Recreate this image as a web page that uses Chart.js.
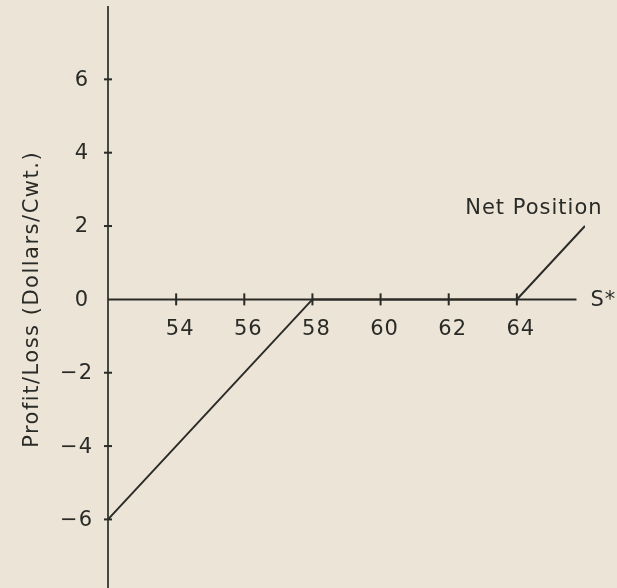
<!DOCTYPE html>
<html>
<head>
<meta charset="utf-8">
<script src="https://cdn.jsdelivr.net/npm/chart.js@4.4.1/dist/chart.umd.min.js"></script>
<style>
  html, body { margin: 0; padding: 0; background: #ece4d7; overflow: hidden; }
  #wrap { width: 617px; height: 588px; position: relative; }
</style>
</head>
<body>
<div id="wrap"><canvas id="c" width="617" height="588"></canvas></div>
<script>
// ---- data ----
const priceS = [52, 58, 64, 66];           // S* (price)
const netPosition = [-6, 0, 0, 2];         // Profit/Loss, Dollars/Cwt.
const xTickValues = [54, 56, 58, 60, 62, 64];
const yTickValues = [6, 4, 2, 0, -2, -4, -6];
const seriesLabel = 'Net Position';
const xAxisLabel = 'S*';
const yAxisLabel = 'Profit/Loss (Dollars/Cwt.)';

const INK = '#2a2b27';
const AXIS_INK = '#434a3e';
const FONT = '21px "DejaVu Sans"';

const axesPlugin = {
  id: 'hand-axes',
  beforeDatasetsDraw(chart) {
    const ctx = chart.ctx;
    const xs = chart.scales.x, ys = chart.scales.y;
    const x0 = xs.getPixelForValue(52);
    const y0 = ys.getPixelForValue(0);
    ctx.save();
    ctx.lineCap = 'butt';
    // y axis
    ctx.strokeStyle = AXIS_INK;
    ctx.lineWidth = 2;
    ctx.beginPath();
    ctx.moveTo(x0, ys.getPixelForValue(8));
    ctx.lineTo(x0, chart.chartArea.bottom + 2);
    ctx.stroke();
    // x axis
    ctx.strokeStyle = INK;
    ctx.beginPath();
    ctx.moveTo(x0, y0);
    ctx.lineTo(xs.getPixelForValue(65.75), y0);
    ctx.stroke();
    // tick marks
    ctx.lineWidth = 2;
    xTickValues.forEach(v => {
      const px = xs.getPixelForValue(v);
      ctx.beginPath();
      ctx.moveTo(px, y0 - 6);
      ctx.lineTo(px, y0 + 6);
      ctx.stroke();
    });
    yTickValues.forEach(v => {
      if (v === 0) return;
      const py = ys.getPixelForValue(v);
      ctx.beginPath();
      ctx.moveTo(x0 - 4, py);
      ctx.lineTo(x0 + 4, py);
      ctx.stroke();
    });
    // labels
    ctx.fillStyle = INK;
    ctx.font = FONT;
    ctx.letterSpacing = '1px';
    ctx.textBaseline = 'middle';
    ctx.textAlign = 'center';
    xTickValues.forEach(v => {
      ctx.fillText(String(v), xs.getPixelForValue(v) + 4, y0 + 30);
    });
    ctx.textAlign = 'right';
    yTickValues.forEach(v => {
      const txt = v < 0 ? '\u2212' + Math.abs(v) : String(v);
      ctx.fillText(txt, x0 - (v < 0 ? 15 : 19), ys.getPixelForValue(v) + 1);
    });
    // x axis name
    ctx.textAlign = 'left';
    ctx.fillText(xAxisLabel, xs.getPixelForValue(65.75) + 14, y0 + 1);
    // series label
    ctx.textAlign = 'center';
    ctx.fillText(seriesLabel, xs.getPixelForValue(64.5), ys.getPixelForValue(2.47));
    // y axis title
    ctx.letterSpacing = '1.5px';
    ctx.translate(33, y0);
    ctx.rotate(-Math.PI / 2);
    ctx.fillText(yAxisLabel, 0, 0);
    ctx.restore();
  }
};

new Chart(document.getElementById('c'), {
  type: 'line',
  data: {
    datasets: [{
      label: seriesLabel,
      data: priceS.map((x, i) => ({ x: x, y: netPosition[i] })),
      borderColor: INK,
      borderWidth: 2,
      pointRadius: 0,
      tension: 0,
      fill: false
    }]
  },
  options: {
    responsive: false,
    animation: false,
    devicePixelRatio: 1,
    layout: { padding: { left: 108, right: 32, top: 6, bottom: 0 } },
    plugins: { legend: { display: false }, tooltip: { enabled: false } },
    scales: {
      x: { type: 'linear', min: 52, max: 66, display: false },
      y: { type: 'linear', min: -7.87, max: 8, display: false }
    }
  },
  plugins: [axesPlugin]
});
</script>
</body>
</html>
